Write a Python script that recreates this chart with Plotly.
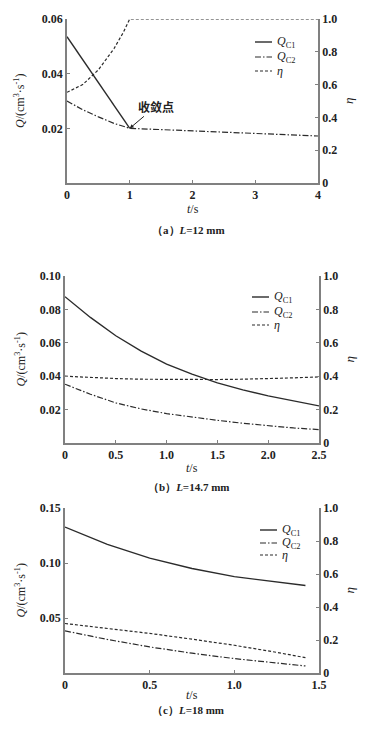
import plotly.graph_objects as go

# ---------------- data ----------------
# (a) L = 12 mm
t_a_c1 = [0, 0.25, 0.5, 0.75, 1.0]
qc1_a = [0.0535, 0.0452, 0.0368, 0.0284, 0.0200]
t_a_c2 = [0, 0.25, 0.5, 0.75, 1.0, 1.5, 2.0, 2.5, 3.0, 3.5, 4.0]
qc2_a = [0.0300, 0.0268, 0.0242, 0.0218, 0.0200, 0.0195, 0.0190, 0.0185, 0.0180, 0.0176, 0.0172]
t_a_eta = [0, 0.25, 0.5, 0.75, 0.9, 1.0, 2.0, 3.0, 4.0]
eta_a = [0.553, 0.60, 0.69, 0.82, 0.92, 1.0, 1.0, 1.0, 1.0]

# (b) L = 14.7 mm
t_b = [0, 0.25, 0.5, 0.75, 1.0, 1.25, 1.5, 1.75, 2.0, 2.25, 2.5]
qc1_b = [0.0876, 0.0752, 0.0642, 0.0550, 0.0472, 0.0412, 0.0360, 0.0318, 0.0282, 0.0250, 0.0222]
qc2_b = [0.0352, 0.0292, 0.0240, 0.0204, 0.0176, 0.0154, 0.0136, 0.0118, 0.0102, 0.0090, 0.0080]
eta_b = [0.400, 0.392, 0.386, 0.382, 0.380, 0.380, 0.380, 0.382, 0.385, 0.390, 0.396]

# (c) L = 18 mm
t_c = [0, 0.25, 0.5, 0.75, 1.0, 1.25, 1.42]
qc1_c = [0.1327, 0.1170, 0.1044, 0.0950, 0.0876, 0.0825, 0.0795]
qc2_c = [0.0383, 0.0305, 0.0237, 0.0180, 0.0131, 0.0092, 0.0064]
eta_c = [0.300, 0.272, 0.240, 0.205, 0.168, 0.125, 0.093]

# ticks
xt_a = [0, 1, 2, 3, 4]
xt_a_txt = ["0", "1", "2", "3", "4"]
xt_b = [0, 0.5, 1.0, 1.5, 2.0, 2.5]
xt_b_txt = ["0", "0.5", "1.0", "1.5", "2.0", "2.5"]
xt_c = [0, 0.5, 1.0, 1.5]
xt_c_txt = ["0", "0.5", "1.0", "1.5"]
yl_a = [0.02, 0.04, 0.06]
yl_a_txt = ["0.02", "0.04", "0.06"]
yl_b = [0.02, 0.04, 0.06, 0.08, 0.10]
yl_b_txt = ["0.02", "0.04", "0.06", "0.08", "0.10"]
yl_c = [0.05, 0.10, 0.15]
yl_c_txt = ["0.05", "0.10", "0.15"]
yr = [0, 0.2, 0.4, 0.6, 0.8, 1.0]
yr_txt = ["0", "0.2", "0.4", "0.6", "0.8", "1.0"]

names = ["<i>Q</i><sub>C1</sub>", "<i>Q</i><sub>C2</sub>", "<i>η</i>"]
captions = ["（a）<i>L</i>=12 mm", "（b）<i>L</i>=14.7 mm", "（c）<i>L</i>=18 mm"]

# ---------------- figure ----------------
# page body has an 8px default margin; figure is sized/positioned to compensate
OFF = 8
W, H = 371 - 2 * OFF, 739 - 2 * OFF
LC = "#2b2b2b"
AX = "#808080"
FONT = "Liberation Serif"
DASHES = ["solid", "6px,2px,1.5px,2px", "3px,2px"]
WIDTHS = [1.4, 1.2, 1.2]

fig = go.Figure()


def py(px):
    return 1 - (px - OFF) / H


def pxx(px):
    return (px - OFF) / W


panels = [
    dict(t1=t_a_c1, q1=qc1_a, t2=t_a_c2, q2=qc2_a, te=t_a_eta, e=eta_a,
         xa="x", yl="y", yr="y2"),
    dict(t1=t_b, q1=qc1_b, t2=t_b, q2=qc2_b, te=t_b, e=eta_b,
         xa="x2", yl="y3", yr="y4"),
    dict(t1=t_c, q1=qc1_c, t2=t_c, q2=qc2_c, te=t_c, e=eta_c,
         xa="x3", yl="y5", yr="y6"),
]

for p in panels:
    fig.add_trace(go.Scatter(x=p["t1"], y=p["q1"], mode="lines", name=names[0],
                             line=dict(color=LC, width=WIDTHS[0], dash=DASHES[0]),
                             xaxis=p["xa"], yaxis=p["yl"], showlegend=False))
    fig.add_trace(go.Scatter(x=p["t2"], y=p["q2"], mode="lines", name=names[1],
                             line=dict(color=LC, width=WIDTHS[1], dash=DASHES[1]),
                             xaxis=p["xa"], yaxis=p["yl"], showlegend=False))
    fig.add_trace(go.Scatter(x=p["te"], y=p["e"], mode="lines", name=names[2],
                             line=dict(color=LC, width=WIDTHS[2], dash=DASHES[2]),
                             xaxis=p["xa"], yaxis=p["yr"], showlegend=False))

# geometry (pixels in the screenshot)
geo = [
    dict(l=67, r=318, top=19, bot=183, xr=[0, 4], xt=xt_a, xtt=xt_a_txt,
         ylr=[0, 0.06], ylt=yl_a, yltt=yl_a_txt, xtitle=209, cap=230,
         legx=255, legys=[42, 57, 71]),
    dict(l=65, r=319, top=276, bot=443, xr=[0, 2.5], xt=xt_b, xtt=xt_b_txt,
         ylr=[0, 0.10], ylt=yl_b, yltt=yl_b_txt, xtitle=468, cap=487,
         legx=252, legys=[297, 312, 325]),
    dict(l=65, r=319, top=508, bot=673, xr=[0, 1.5], xt=xt_c, xtt=xt_c_txt,
         ylr=[0, 0.15], ylt=yl_c, yltt=yl_c_txt, xtitle=695, cap=710,
         legx=260, legys=[530, 543, 555]),
]

tickfont = dict(family=FONT, size=12, color="#222", weight="bold")
layout = {}
annotations = []
shapes = []
for i, g in enumerate(geo):
    xk = "xaxis" if i == 0 else f"xaxis{i+1}"
    ylk = "yaxis" if i == 0 else f"yaxis{2*i+1}"
    yrk = f"yaxis{2*i+2}"
    xid = "x" if i == 0 else f"x{i+1}"
    ylid = "y" if i == 0 else f"y{2*i+1}"
    dom_x = [pxx(g["l"]), pxx(g["r"])]
    dom_y = [py(g["bot"]), py(g["top"])]
    layout[xk] = dict(domain=dom_x, range=g["xr"], anchor=ylid, showline=True,
                      linecolor=AX, linewidth=1.5, ticks="inside", ticklen=3,
                      tickcolor=AX, tickvals=g["xt"], ticktext=g["xtt"],
                      tickfont=tickfont, showgrid=False, zeroline=False,
                      automargin=False)
    layout[ylk] = dict(domain=dom_y, range=g["ylr"], anchor=xid, showline=True,
                       linecolor=AX, linewidth=1.5, ticks="inside", ticklen=3,
                       tickcolor=AX, tickvals=g["ylt"], ticktext=g["yltt"],
                       tickfont=tickfont, showgrid=False, zeroline=False,
                       automargin=False)
    layout[yrk] = dict(domain=dom_y, range=[0, 1], anchor=xid, overlaying=ylid,
                       side="right", showline=True, linecolor=AX, linewidth=1.5,
                       ticks="inside", ticklen=3, tickcolor=AX, tickvals=yr,
                       ticktext=yr_txt, tickfont=tickfont, showgrid=False,
                       zeroline=False, automargin=False)
    # legend (drawn as key lines + labels)
    for k, ly in enumerate(g["legys"]):
        shapes.append(dict(type="line", xref="paper", yref="paper",
                           x0=pxx(g["legx"]), x1=pxx(g["legx"] + 17),
                           y0=py(ly), y1=py(ly),
                           line=dict(color=LC, width=WIDTHS[k], dash=DASHES[k])))
        annotations.append(dict(text=names[k], x=pxx(g["legx"] + 20), y=py(ly),
                                xref="paper", yref="paper", showarrow=False,
                                xanchor="left", yanchor="middle",
                                font=dict(family=FONT, size=12, color="#222")))
    mid = (g["top"] + g["bot"]) / 2
    annotations.append(dict(text="<i>Q</i>/(cm<sup>3</sup>·s<sup>-1</sup>)", textangle=-90,
                            x=pxx(20), y=py(mid), xref="paper", yref="paper",
                            xanchor="center", yanchor="middle",
                            showarrow=False, font=dict(family=FONT, size=12, color="#222")))
    annotations.append(dict(text="<i>η</i>", textangle=-90,
                            x=pxx(349), y=py(mid), xref="paper", yref="paper",
                            xanchor="center", yanchor="middle",
                            showarrow=False, font=dict(family=FONT, size=13, color="#222")))
    cx = (g["l"] + g["r"]) / 2
    annotations.append(dict(text="<i>t</i>/s", x=pxx(cx), y=py(g["xtitle"]),
                            xref="paper", yref="paper", showarrow=False,
                            xanchor="center", yanchor="middle",
                            font=dict(family=FONT, size=12, color="#222")))
    annotations.append(dict(text=captions[i], x=pxx(cx - 4), y=py(g["cap"]),
                            xref="paper", yref="paper", showarrow=False,
                            xanchor="center", yanchor="middle",
                            font=dict(family=FONT, size=11, color="#222", weight="bold")))

# convergence point annotation
annotations.append(dict(text="收敛点", x=t_a_c1[-1], y=qc1_a[-1], xref="x", yref="y",
                        showarrow=True, arrowhead=2, arrowsize=0.8, arrowwidth=1,
                        arrowcolor="#222", ax=26, ay=-22, axref="pixel", ayref="pixel",
                        font=dict(family="Noto Sans CJK SC", size=12, color="#222",
                                  weight="bold")))

fig.update_layout(**layout)
fig.update_layout(width=W, height=H, margin=dict(l=0, r=0, t=0, b=0),
                  paper_bgcolor="white", plot_bgcolor="white",
                  annotations=annotations, shapes=shapes, showlegend=False)

fig.write_html("out.html")
